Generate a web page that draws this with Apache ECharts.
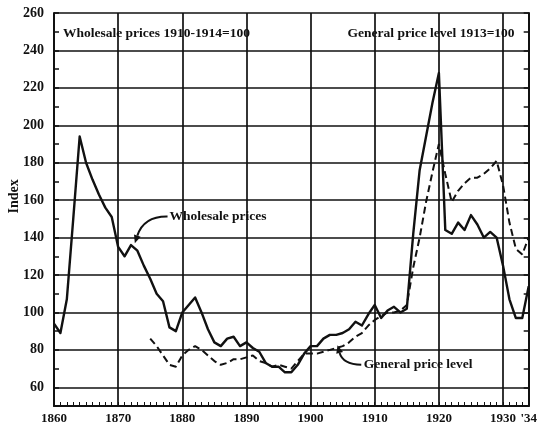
<!DOCTYPE html>
<html>
<head>
<meta charset="utf-8">
<script src="https://cdn.jsdelivr.net/npm/echarts@6/dist/echarts.min.js"></script>
<style>
html, body { margin: 0; padding: 0; background: #fff; }
#chart { width: 540px; height: 425px; }
</style>
</head>
<body>
<div id="chart"></div>
<script>
// wholesale prices (1910-1914 = 100), one value per year starting 1860
const wholesaleStart = 1860
const wholesale = [
  94, 89, 107, 150, 194, 180, 171, 163, 156, 151,   // 1860s
  135, 130, 136, 133, 125, 118, 110, 106, 92, 90,   // 1870s
  100, 104, 108, 100, 91, 84, 82, 86, 87, 82,       // 1880s
  84, 81, 79, 73, 71, 71, 68, 68, 72, 78,           // 1890s
  82, 82, 86, 88, 88, 89, 91, 95, 93, 99,           // 1900s
  104, 97, 101, 103, 100, 102, 142, 176, 194, 212,  // 1910s
  228, 144, 142, 148, 144, 152, 147, 140, 143, 140, // 1920s
  125, 107, 97, 97, 114                             // 1930-34
]

// general price level (1913 = 100), one value per year starting 1875
const generalStart = 1875
const general = [
  86, 82, 77, 72, 71,                               // 1875-79
  77, 80, 82, 80, 77, 74, 72, 73, 75, 75,           // 1880s
  76, 77, 74, 73, 71, 72, 71, 70, 74, 78,           // 1890s
  78, 78, 79, 80, 81, 82, 84, 87, 89, 93,           // 1900s
  96, 98, 100, 100, 101, 104, 124, 140, 159, 175,   // 1910s
  190, 174, 159, 165, 169, 172, 172, 174, 177, 181, // 1920s
  168, 148, 134, 131, 140                           // 1930-34
]

const xMin = 1860
const xMax = 1934
const yMin = 50
const yMax = 260

const serif = '"Liberation Serif", "DejaVu Serif", serif'
const ink = '#111'

const chart = echarts.init(document.getElementById('chart'))

chart.setOption({
  animation: false,
  grid: { left: 54, right: 11, top: 13, bottom: 17 },
  xAxis: [
    {
      type: 'value', min: xMin, max: xMax, interval: 10,
      axisLine: { show: true, onZero: false, lineStyle: { color: ink, width: 2 } },
      axisTick: { show: false },
      splitLine: { show: true, lineStyle: { color: ink, width: 1.7 } },
      axisLabel: {
        formatter: v => (v === 1934 ? "'34" : String(v)),
        color: ink, fontFamily: serif, fontWeight: 'bold', fontSize: 13, margin: 6
      }
    },
    {
      // yearly minor ticks
      type: 'value', min: xMin, max: xMax, interval: 1, position: 'bottom',
      axisLine: { show: false },
      axisLabel: { show: false },
      splitLine: { show: false },
      axisTick: { show: true, inside: true, length: 4, lineStyle: { color: ink, width: 1 } }
    }
  ],
  yAxis: [
    {
      type: 'value', min: yMin, max: yMax, interval: 10, position: 'left',
      axisLine: { show: true, onZero: false, lineStyle: { color: ink, width: 2 } },
      axisTick: { show: true, inside: true, length: 5, lineStyle: { color: ink, width: 1.5 } },
      // only every other line (60, 80 ... 260) is drawn
      splitLine: { show: true, lineStyle: { color: ['rgba(0,0,0,0)', ink], width: 1.7 } },
      axisLabel: {
        formatter: v => (v % 20 === 0 ? String(v) : ''),
        color: ink, fontFamily: serif, fontWeight: 'bold', fontSize: 14, margin: 10
      }
    },
    {
      type: 'value', min: yMin, max: yMax, interval: 10, position: 'right',
      axisLine: { show: true, onZero: false, lineStyle: { color: ink, width: 2 } },
      axisTick: { show: true, inside: true, length: 5, lineStyle: { color: ink, width: 1.5 } },
      axisLabel: { show: false },
      splitLine: { show: false }
    }
  ],
  series: [
    {
      name: 'Wholesale prices',
      type: 'line',
      showSymbol: false,
      data: wholesale.map((v, i) => [wholesaleStart + i, v]),
      lineStyle: { color: ink, width: 2.4, join: 'round' }
    },
    {
      name: 'General price level',
      type: 'line',
      showSymbol: false,
      data: general.map((v, i) => [generalStart + i, v]),
      lineStyle: { color: ink, width: 2, type: [7, 4] }
    }
  ]
})

// annotations: labels with curved pointer arrows, placed in data coords
function px (pt) {
  return chart.convertToPixel({ xAxisIndex: 0, yAxisIndex: 0 }, pt)
}

function pointer (from, ctrl, tip) {
  const a = px(from)
  const c = px(ctrl)
  const t = px(tip)
  let dx = t[0] - c[0]
  let dy = t[1] - c[1]
  const len = Math.sqrt(dx * dx + dy * dy)
  dx /= len
  dy /= len
  const back = [t[0] - dx * 8, t[1] - dy * 8]
  return [
    {
      type: 'bezierCurve',
      shape: { x1: a[0], y1: a[1], cpx1: c[0], cpy1: c[1], x2: back[0], y2: back[1] },
      style: { stroke: ink, lineWidth: 2, fill: null }
    },
    {
      type: 'polygon',
      shape: {
        points: [
          t,
          [back[0] - dy * 3.5, back[1] + dx * 3.5],
          [back[0] + dy * 3.5, back[1] - dx * 3.5]
        ]
      },
      style: { fill: ink }
    }
  ]
}

function label (text, pt, align) {
  const p = px(pt)
  return {
    type: 'text',
    style: {
      x: p[0], y: p[1], text: text,
      font: 'bold 13.5px ' + serif, fill: ink,
      align: align || 'left', verticalAlign: 'middle'
    }
  }
}

const yLabelPos = px([xMin, 162])

chart.setOption({
  graphic: [
    label('Wholesale prices 1910-1914=100', [1861.4, 249]),
    label('General price level 1913=100', [1931.8, 249], 'right'),
    label('Wholesale prices', [1878, 151.3]),
    label('General price level', [1908.3, 72]),
    ...pointer([1877.7, 151.3], [1874.0, 151.5], [1872.6, 137]),
    ...pointer([1907.9, 72], [1905.0, 72.5], [1904.2, 82.5]),
    {
      type: 'text',
      rotation: Math.PI / 2,
      x: 14, y: yLabelPos[1],
      style: {
        text: 'Index', font: 'bold 14px ' + serif, fill: ink,
        align: 'center', verticalAlign: 'middle'
      }
    }
  ]
})
</script>
</body>
</html>
